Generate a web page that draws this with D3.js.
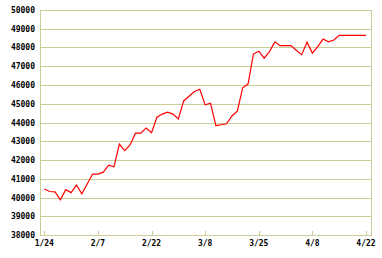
<!DOCTYPE html>
<html>
<head>
<meta charset="utf-8">
<script src="https://cdn.jsdelivr.net/npm/d3@7"></script>
<style>
  body { margin: 0; background: #fff; }
  text { font-family: "DejaVu Sans Mono", monospace; font-size: 8px; fill: #000; }
</style>
</head>
<body>
<div id="chart"></div>
<script>
// 61 trading days, 1/24 .. 4/22
const values = [
  40450, 40320, 40300, 39880, 40420, 40260, 40660, 40200, 40720, 41250,
  41250, 41350, 41720, 41640, 42850, 42500, 42800, 43430, 43430, 43700,
  43460, 44280, 44450, 44550, 44450, 44190, 45150, 45400, 45650, 45770,
  44940, 45030, 43830, 43880, 43930, 44350, 44600, 45850, 46050, 47650,
  47800, 47430, 47780, 48300, 48100, 48100, 48100, 47850, 47620, 48280,
  47700, 48050, 48450, 48300, 48400, 48650, 48650, 48650, 48650, 48650,
  48650
];
const tickIdx = [0, 10, 20, 30, 40, 50, 60];
const tickLabels = ["1/24", "2/7", "2/22", "3/8", "3/25", "4/8", "4/22"];
const yTicks = d3.range(38000, 50001, 1000);

const width = 382, height = 258;
const plotLeft = 40, plotRight = 371, plotTop = 10, plotBottom = 235;

const svg = d3.select("#chart").append("svg")
  .attr("width", width)
  .attr("height", height);

const x = d3.scaleLinear().domain([0, values.length - 1]).range([44.3, 366]);
const y = d3.scaleLinear().domain([38000, 50000]).range([plotBottom, plotTop]);

const grid = "#cccc99";

// horizontal grid lines
svg.selectAll("line.grid")
  .data(yTicks)
  .enter().append("line")
    .attr("x1", plotLeft).attr("x2", plotRight)
    .attr("y1", d => Math.round(y(d)) + 0.5)
    .attr("y2", d => Math.round(y(d)) + 0.5)
    .attr("stroke", grid)
    .attr("stroke-width", 1);

// left + right borders
[plotLeft, plotRight].forEach(xx => {
  svg.append("line")
    .attr("x1", xx + 0.5).attr("x2", xx + 0.5)
    .attr("y1", plotTop).attr("y2", plotBottom + 1)
    .attr("stroke", grid);
});

// y labels
svg.selectAll("text.ylab")
  .data(yTicks)
  .enter().append("text")
    .attr("x", 35)
    .attr("y", d => Math.round(y(d)) + 3)
    .attr("text-anchor", "end")
    .attr("font-weight", "bold")
    .text(d => d);

// x ticks (pointing up into plot)
svg.selectAll("line.xtick")
  .data(tickIdx)
  .enter().append("line")
    .attr("x1", d => Math.round(x(d)) + 0.5)
    .attr("x2", d => Math.round(x(d)) + 0.5)
    .attr("y1", plotBottom - 4).attr("y2", plotBottom)
    .attr("stroke", grid);

svg.selectAll("text.xlab")
  .data(tickIdx)
  .enter().append("text")
    .attr("x", d => x(d))
    .attr("y", 246)
    .attr("text-anchor", "middle")
    .attr("font-weight", "bold")
    .text((d, i) => tickLabels[i]);

const line = d3.line()
  .x((d, i) => x(i))
  .y(d => y(d));

svg.append("path")
  .datum(values)
  .attr("d", line)
  .attr("fill", "none")
  .attr("stroke", "#ff0000")
  .attr("stroke-width", 1.2);
</script>
</body>
</html>
